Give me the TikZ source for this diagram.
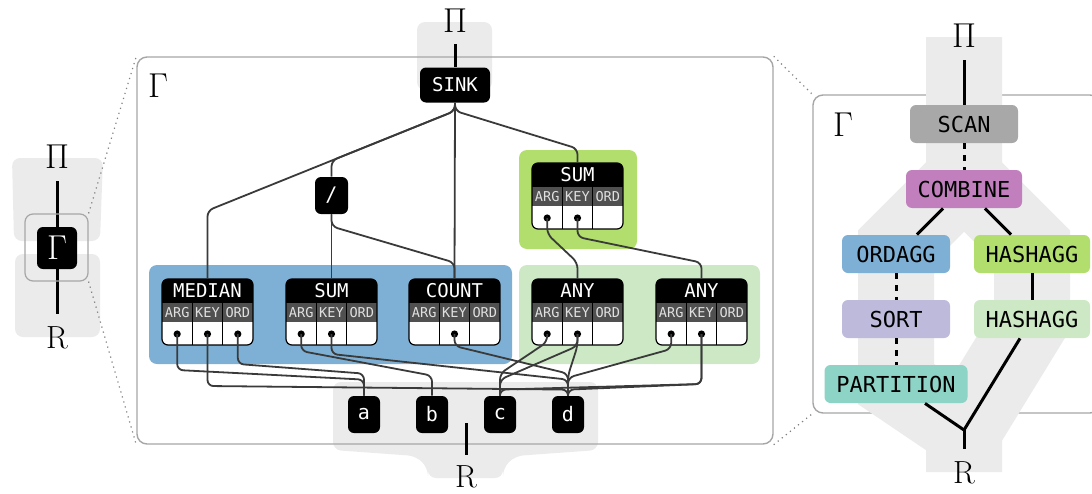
\documentclass[tikz,border=0pt]{standalone}
\usepackage{fontspec}
\setmonofont{DejaVu Sans Mono}
\usetikzlibrary{positioning,calc}

\definecolor{bggray}{HTML}{EBEBEB}
\definecolor{framegray}{HTML}{A6A6A6}
\definecolor{portgray}{HTML}{505050}
\definecolor{ordblue}{HTML}{7EB0D5}
\definecolor{hashgreen}{HTML}{B2DE6E}
\definecolor{anygreen}{HTML}{CCE8C4}
\definecolor{scangray}{HTML}{A8A8A8}
\definecolor{combpurple}{HTML}{C180BD}
\definecolor{sortlav}{HTML}{BDBADC}
\definecolor{partteal}{HTML}{8DD3C6}
\definecolor{wiregray}{HTML}{3A3A3A}

\tikzset{
  greek/.style={font=\fontsize{16}{16}\selectfont, inner sep=0pt},
  opnode/.style={fill=black, text=white, rounded corners=3pt,
    font=\ttfamily\fontsize{9.5}{10}\selectfont, inner sep=0pt},
  colnode/.style={fill=black, text=white, rounded corners=3pt,
    font=\ttfamily\fontsize{10}{10}\selectfont,
    minimum width=16pt, minimum height=18.5pt, inner sep=0pt},
  aggtitle/.style={text=white, font=\ttfamily\fontsize{9.5}{10}\selectfont,
    minimum width=45.5pt, minimum height=12pt, inner sep=0pt},
  portlabel/.style={text=white!88!black, font=\ttfamily\fontsize{6.8}{7}\selectfont,
    inner sep=0pt},
  wire/.style={draw=wiregray, line width=0.9pt, rounded corners=3pt},
  stem/.style={line width=1.5pt},
  panel/.style={draw=framegray, line width=0.7pt, rounded corners=5pt, inner sep=0pt},
  zoomline/.style={draw=gray, dotted, line width=0.6pt},
  plan/.style={rounded corners=3pt, font=\ttfamily\fontsize{11}{11}\selectfont,
    minimum height=19pt, inner sep=0pt},
  planedge/.style={line width=1.5pt},
  planskip/.style={line width=1.5pt, dash pattern=on 3pt off 3pt},
}

% aggregate box: name, top centre, title, ports with a dot
\newcommand{\aggbox}[4]{%
  \begin{scope}[shift={#2}]
    \begin{scope}
      \clip[rounded corners=3pt] (-45.5,0) rectangle (45.5,66);
      \fill[white] (-45.5,0) rectangle (45.5,66);
      \fill[black] (-45.5,0) rectangle (45.5,24);
      \fill[portgray] (-45.5,24) rectangle (45.5,43);
    \end{scope}
    \foreach \x in {-15.17,15.17}
      \draw[black, line width=0.6pt] (\x,24) -- (\x,66);
    \draw[black, line width=0.6pt, rounded corners=3pt] (-45.5,0) rectangle (45.5,66);
    \node[aggtitle] (#1) at (0,12) {#3};
    \node[portlabel] (#1-argl) at (-30.33,33.5) {ARG};
    \node[portlabel] (#1-keyl) at (0,33.5) {KEY};
    \node[portlabel] (#1-ordl) at (30.33,33.5) {ORD};
    \coordinate (#1-arg) at (-30.33,55);
    \coordinate (#1-key) at (0,55);
    \coordinate (#1-ord) at (30.33,55);
    \foreach \p in {#4}
      \fill (#1-\p) circle (1.8pt);
  \end{scope}}

\begin{document}
\begin{tikzpicture}[x=0.5pt,y=-0.5pt]
\useasboundingbox (0,0) rectangle (1092,493);

% ---- small view on the left
\fill[bggray, rounded corners=4pt] (12,158) -- (103,158) -- (100,241) -- (14,241) -- cycle;
\fill[bggray, rounded corners=4pt] (15,254) rectangle (100,337);
\node[greek] (lpi) at (57,157) {$\Pi$};
\node[greek] (lr) at (57,338) {R};
\node[fill=black, text=white, rounded corners=3pt, minimum width=20pt,
  minimum height=21pt, inner sep=0pt, font=\fontsize{16}{16}\selectfont]
  (lgamma) at (57,248) {$\Gamma$};
\draw[stem, shorten <=6pt] (lpi) -- (lgamma);
\draw[stem, shorten >=6pt] (lgamma) -- (lr);
\node[draw=framegray, line width=0.6pt, rounded corners=4pt, minimum width=31.5pt,
  minimum height=33.5pt] (lframe) at (56.5,247.5) {};

% ---- expression graph in the middle
\fill[bggray, rounded corners=4pt] (417,22) rectangle (492,90);
\fill[bggray, rounded corners=4pt] (333,382) -- (598,382) -- (598,450) -- (515,456)
  -- (503,468) -- (503,478) -- (428,478) -- (428,468) -- (416,456) -- (333,450) -- cycle;
\node[panel, minimum width=318pt, minimum height=193.5pt] (mid) at (455,250.5) {};
\draw[zoomline] (lframe.north east) -- (mid.north west);
\draw[zoomline] (lframe.south east) -- (mid.south west);
\node[greek] (midgamma) at (158,86) {$\Gamma$};

\node[greek] (mpi) at (455,21) {$\Pi$};
\node[opnode, minimum width=35pt, minimum height=17.5pt] (sink) at (455,85) {SINK};
\draw[stem, shorten <=5.5pt] (mpi) -- (sink);

\fill[ordblue, rounded corners=4pt] (149,265) rectangle (512,364);
\fill[anygreen, rounded corners=4pt] (519,265) rectangle (760,364);
\fill[hashgreen, rounded corners=4pt] (519,150) rectangle (637,249);

\node[opnode, minimum width=16.5pt, minimum height=18.5pt,
  font=\ttfamily\fontsize{10}{10}\selectfont] (div) at (331.5,195.5) {/};

\aggbox{median}{(207.5,279)}{MEDIAN}{arg,key,ord}
\aggbox{sum}{(331.5,279)}{SUM}{arg,key}
\aggbox{count}{(454.5,279)}{COUNT}{key}
\aggbox{any1}{(577.5,279)}{ANY}{arg,key}
\aggbox{any2}{(701.5,279)}{ANY}{arg,key}
\aggbox{gsum}{(577.5,163)}{SUM}{arg,key}

\node[colnode] (a) at (364,414.5) {a};
\node[colnode] (b) at (432,414.5) {b};
\node[colnode] (c) at (500,414.5) {c};
\node[colnode] (d) at (568,414.5) {d};

\coordinate (mrtop) at (466,423);
\node[greek] (mr) at (466,477) {R};
\draw[stem, shorten >=5pt] (mrtop) -- (mr);

% sink fan-out
\draw[wire] (sink.south) -- ++(0,8) -- ([yshift=34pt]median.north) -- (median.north);
\draw[wire] (sink.south) -- ++(0,8) -- ([yshift=8pt]div.north) -- (div.north);
\draw[wire] (sink.south) -- (count.north);
\draw[wire] (sink.south) -- ++(0,8) -- ([yshift=7pt]gsum.north) -- (gsum.north);
\draw[wire] (div.south) -- (sum.north);
\draw[wire] (div.south) -- ++(0,12) -- ([yshift=8pt]count.north) -- (count.north);
\draw[wire] (gsum-arg) -- ++(0,16) -- ([yshift=8pt]any1.north) -- (any1.north);
\draw[wire] (gsum-key) -- ++(0,19) -- ([yshift=8pt]any2.north) -- (any2.north);

% inputs
\draw[wire] (median-arg) -- ++(0,36) -- ([yshift=8pt]a.north) -- (a.north);
\draw[wire] (median-ord) -- ++(0,30) -- ([yshift=11pt]a.north) -- (a.north);
\draw[wire] (median-key) -- ++(0,52) -- ([yshift=3pt]d.north) -- (d.north);
\draw[wire] (sum-arg) -- ++(0,17) -- ([yshift=10pt]b.north) -- (b.north);
\draw[wire] (sum-key) -- ++(0,20) -- ([yshift=8pt]d.north) -- (d.north);
\draw[wire] (count-key) -- ++(0,12) -- ([yshift=11pt]d.north) -- (d.north);
\draw[wire] (any1-arg) -- ++(0,8) -- ([yshift=11pt]c.north) -- (c.north);
\draw[wire] (any1-key) -- ++(0,12) -- ([yshift=8pt]c.north) -- (c.north);
\draw[wire] (any1-key) -- ++(0,12) -- ([yshift=10pt]d.north) -- (d.north);
\draw[wire] (any2-arg) -- ++(0,15) -- ([yshift=9pt]d.north) -- (d.north);
\draw[wire] (any2-key) -- ++(0,50) -- ([yshift=3pt]c.north) -- (c.north);
\draw[wire] (any2-key) -- ++(0,50) -- ([yshift=3pt]d.north) -- (d.north);

% ---- physical plan on the right
\node[panel, minimum width=143.5pt, minimum height=159pt] (right) at (956.5,254) {};
\draw[zoomline] (mid.north east) -- (right.north west);
\draw[zoomline] (mid.south east) -- (right.south west);
\draw[bggray, line width=38pt] (964,37) -- (964,178) -- (896,246) -- (896,384)
  -- (964,430) -- (964,472);
\draw[bggray, line width=38pt] (964,178) -- (1032,246) -- (1032,319) -- (964,430);
\node[greek] (rgamma) at (843,125) {$\Gamma$};
\node[greek] (rpi) at (964,36) {$\Pi$};
\node[plan, fill=scangray, minimum width=54pt] (scan) at (964,124) {SCAN};
\node[plan, fill=combpurple, minimum width=58pt] (combine) at (964,189) {COMBINE};
\node[plan, fill=ordblue, minimum width=54pt] (ordagg) at (896,254) {ORDAGG};
\node[plan, fill=hashgreen, minimum width=58pt] (hash1) at (1032,254) {HASHAGG};
\node[plan, fill=sortlav, minimum width=54pt] (sort) at (896,319) {SORT};
\node[plan, fill=anygreen, minimum width=58pt] (hash2) at (1032,319) {HASHAGG};
\node[plan, fill=partteal, minimum width=71.5pt] (partition) at (896,384) {PARTITION};
\coordinate (join) at (964,430);
\node[greek] (rr) at (964,473) {R};

\draw[planedge, shorten <=6pt] (rpi) -- (scan);
\draw[planskip] (scan) -- (combine);
\draw[planedge] ([xshift=-10.5pt]combine.south) -- ([xshift=10.5pt]ordagg.north);
\draw[planedge] ([xshift=10.5pt]combine.south) -- ([xshift=-10.5pt]hash1.north);
\draw[planskip] (ordagg) -- (sort);
\draw[planskip] (sort) -- (partition);
\draw[planedge] (hash1) -- (hash2);
\draw[planedge] ([xshift=14.5pt]partition.south) -- (join);
\draw[planedge] ([xshift=-6pt]hash2.south) -- (join);
\draw[planedge, shorten >=6pt] (join) -- (rr);
\end{tikzpicture}
\end{document}
